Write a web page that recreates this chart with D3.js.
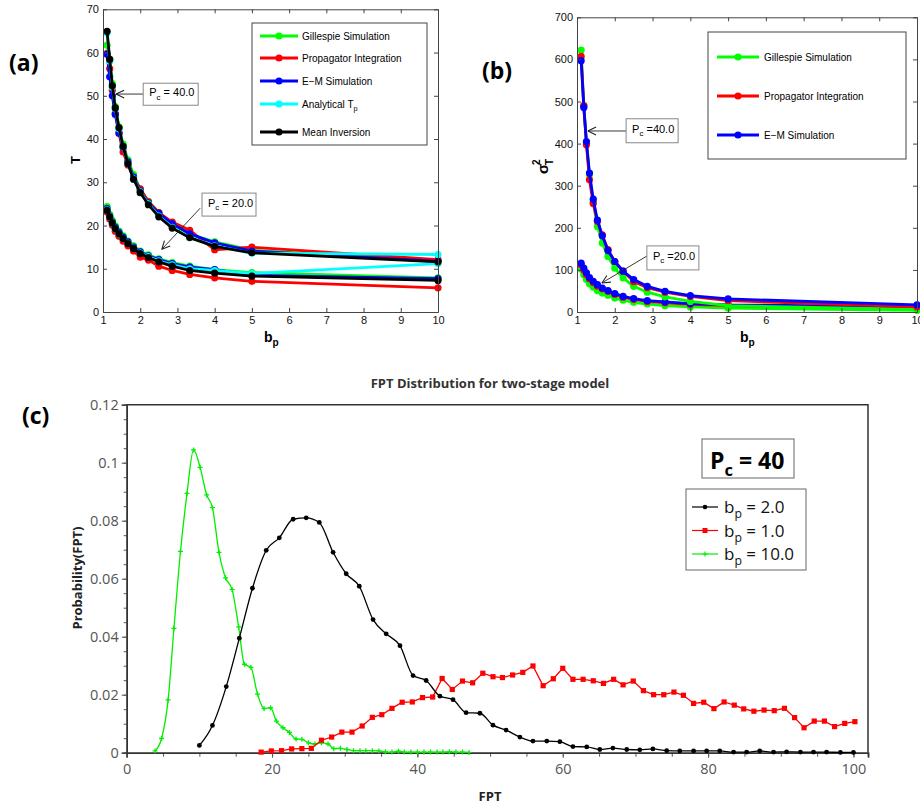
<!DOCTYPE html>
<html lang="en">
<head>
<meta charset="utf-8">
<title>FPT two-stage model</title>
<script src="https://d3js.org/d3.v7.min.js"></script>
<style>
  body { margin: 0; background: #fff; }
</style>
</head>
<body>
<div id="chart"></div>
<script>
// ---------- data ----------
// b_p values used in panels (a) and (b)
var bp = [1.11, 1.18, 1.25, 1.33, 1.43, 1.54, 1.67, 1.82, 2, 2.22, 2.5, 2.86, 3.33, 4, 5, 10];

// panel (a): mean FPT, Pc = 40
var gill40 = [61.7, 58.5, 52.8, 47.5, 42.8, 38.8, 35.2, 31.8, 28.4, 25.6, 23.0, 20.2, 18.0, 16.2, 14.3, 11.8];
var prop40 = [59.8, 56.3, 51.3, 45.9, 41.3, 37.0, 34.0, 31.1, 28.5, 25.5, 23.0, 20.8, 18.9, 14.4, 15.0, 12.1];
var em40   = [59.6, 54.4, 50.0, 45.7, 41.4, 38.0, 34.7, 31.2, 28.0, 25.2, 22.8, 20.4, 18.1, 16.0, 14.1, 11.7];
var ana40  = [64.5, 58.0, 52.0, 47.0, 42.4, 38.2, 34.3, 30.8, 27.8, 25.0, 22.2, 19.6, 17.2, 15.3, 13.6, 13.3];
var mi40   = [64.9, 58.4, 52.3, 47.2, 42.6, 38.3, 34.3, 30.7, 27.6, 24.8, 22.0, 19.4, 17.2, 15.2, 13.7, 11.6];
// panel (a): mean FPT, Pc = 20
var gill20 = [24.4, 22.6, 21.2, 19.9, 18.7, 17.6, 16.4, 15.3, 14.1, 13.2, 12.3, 11.4, 10.6, 9.8, 9.1, 7.9];
var prop20 = [23.1, 21.5, 20.1, 18.7, 17.5, 16.4, 15.3, 14.1, 12.7, 12.0, 10.6, 9.6, 8.7, 7.9, 7.1, 5.6];
var em20   = [23.9, 22.2, 20.8, 19.6, 18.4, 17.3, 16.2, 15.0, 13.9, 13.0, 12.1, 11.2, 10.4, 9.8, 8.5, 7.7];
var ana20  = [23.6, 22.0, 20.6, 19.3, 18.1, 17.0, 15.9, 14.8, 13.6, 12.8, 11.8, 10.9, 10.0, 9.6, 8.9, 11.2];
var mi20   = [23.5, 22.0, 20.6, 19.3, 18.1, 17.0, 15.8, 14.7, 13.5, 12.6, 11.6, 10.6, 9.6, 9.0, 8.3, 7.3];

// panel (b): variance of FPT
var gillV40 = [622, 490, 401, 326, 261, 203, 164, 132, 104, 81, 61, 47, 36, 25, 15, 6];
var propV40 = [607, 490, 397, 314, 258, 215, 183, 148, 120, 97, 72, 58, 47, 37, 27, 12];
var emV40   = [597, 486, 405, 330, 268, 218, 181, 146, 120, 97, 77, 61, 49, 39, 31, 17];
var gillV20 = [102, 89, 77, 67, 59, 51, 45, 40, 33, 28, 23, 19, 15, 12, 9, 4];
var propV20 = [112, 100, 89, 79, 70, 62, 55, 49, 42, 35, 30, 25, 22, 18, 15, 11];
var emV20   = [116, 104, 93, 82, 73, 65, 57, 51, 44, 37, 32, 27, 24, 20, 17, 13];

// panel (c): FPT distributions, Pc = 40
var fptB2 = [10.0, 11.8, 13.7, 15.5, 17.3, 19.2, 21.0, 22.9, 24.7, 26.5, 28.4, 30.2, 32.0, 33.9, 35.7, 37.6, 39.4, 41.2, 43.1, 44.9,
             46.7, 48.6, 50.4, 52.2, 54.1, 55.9, 57.8, 59.6, 61.4, 63.3, 65.1, 66.9, 68.8, 70.6, 72.4, 74.3, 76.1, 78.0, 79.8, 81.6,
             83.5, 85.3, 87.1, 89.0, 90.8, 92.7, 94.5, 96.3, 98.2, 100.0];
var probB2 = [0.0025, 0.0094, 0.0228, 0.0395, 0.0567, 0.0698, 0.0741, 0.0805, 0.0810, 0.0794, 0.0691, 0.0617, 0.0574, 0.0459, 0.0410,
              0.0369, 0.0266, 0.0249, 0.0195, 0.0183, 0.0138, 0.0136, 0.0095, 0.0078, 0.0054, 0.0040, 0.0040, 0.0038, 0.0021, 0.0020,
              0.0011, 0.0016, 0.0011, 0.0010, 0.0013, 0.0007, 0.0006, 0.0006, 0.0006, 0.0006, 0.0002, 0.0002, 0.0006, 0.0002, 0.0003,
              0.0002, 0.0002, 0.0002, 0.0001, 0.0001];
var fptB1 = [18.5, 19.9, 21.3, 22.7, 24.1, 25.4, 26.8, 28.2, 29.6, 31.0, 32.4, 33.8, 35.1, 36.5, 37.9, 39.3, 40.7, 42.1, 43.4, 44.8,
             46.2, 47.6, 49.0, 50.4, 51.7, 53.1, 54.5, 55.9, 57.3, 58.7, 60.0, 61.4, 62.8, 64.2, 65.6, 67.0, 68.3, 69.7, 71.1, 72.5,
             73.9, 75.3, 76.6, 78.0, 79.4, 80.8, 82.2, 83.6, 84.9, 86.3, 87.7, 89.1, 90.5, 91.9, 93.2, 94.6, 96.0, 97.4, 98.8, 100.2];
var probB1 = [0.0002, 0.0006, 0.0007, 0.0013, 0.0014, 0.0015, 0.0043, 0.0054, 0.0071, 0.0071, 0.0092, 0.0122, 0.0131, 0.0153, 0.0174,
              0.0175, 0.0190, 0.0192, 0.0256, 0.0218, 0.0247, 0.0241, 0.0274, 0.0262, 0.0259, 0.0268, 0.0277, 0.0299, 0.0231, 0.0255,
              0.0291, 0.0253, 0.0253, 0.0248, 0.0239, 0.0253, 0.0234, 0.0247, 0.0214, 0.0200, 0.0200, 0.0209, 0.0198, 0.0170, 0.0174,
              0.0152, 0.0175, 0.0164, 0.0151, 0.0143, 0.0147, 0.0145, 0.0153, 0.0121, 0.0086, 0.0109, 0.0109, 0.0090, 0.0101, 0.0107];
var fptB10 = [3.9, 4.8, 5.7, 6.5, 7.4, 8.3, 9.2, 10.1, 11.0, 11.8, 12.7, 13.6, 14.5, 15.4, 16.2, 17.1, 18.0, 18.9, 19.8, 20.6,
              21.5, 22.4, 23.3, 24.1, 25.0, 25.9, 26.8, 27.7, 28.5, 29.4, 30.3, 31.2, 32.1, 32.9, 33.8, 34.7, 35.6, 36.5, 37.4, 38.2,
              39.1, 40.0, 40.9, 41.8, 42.7, 43.5, 44.4, 45.3, 46.2, 47.1];
var probB10 = [0.0006, 0.0049, 0.0182, 0.0429, 0.0694, 0.0894, 0.1044, 0.0984, 0.0889, 0.0845, 0.0691, 0.0603, 0.0563, 0.0434, 0.0305,
               0.0294, 0.0202, 0.0152, 0.0155, 0.0109, 0.0086, 0.0070, 0.0047, 0.0046, 0.0034, 0.0030, 0.0034, 0.0030, 0.0014, 0.0015,
               0.0011, 0.0007, 0.0007, 0.0007, 0.0007, 0.0006, 0.0003, 0.0002, 0.0005, 0.0002, 0.0002, 0.0002, 0.0002, 0.0002, 0.0002,
               0.0002, 0.0003, 0.0002, 0.0002, 0.0001];

// tick labels
var xTicksAB = [1, 2, 3, 4, 5, 6, 7, 8, 9, 10];
var yTicksA = [0, 10, 20, 30, 40, 50, 60, 70];
var yTicksB = [0, 100, 200, 300, 400, 500, 600, 700];
var xTicksC = [0, 20, 40, 60, 80, 100];
var yTicksC = [0, 0.02, 0.04, 0.06, 0.08, 0.1, 0.12];

var GREEN = "#00ff00", RED = "#ff0000", BLUE = "#0000ff", CYAN = "#00ffff", BLACK = "#000000";
var MAT_FONT = "'Liberation Sans', Arial, sans-serif";
var C_FONT = "'Open Sans', 'Noto Sans', sans-serif";

var svg = d3.select("#chart").append("svg")
    .attr("width", 920)
    .attr("height", 804);

// zip two arrays into points
function pts(xs, ys) {
    return xs.map(function(d, i){ return [d, ys[i]]; });
}

// MATLAB style box with inward ticks on all four sides
function matlabAxes(g, x, y, xTicks, yTicks) {
    var xr = x.range(), yr = y.range();
    g.append("g").attr("transform", "translate(0," + yr[0] + ")")
        .call(d3.axisBottom(x).tickValues(xTicks).tickSizeInner(-4).tickSizeOuter(0).tickPadding(4));
    g.append("g").attr("transform", "translate(0," + yr[1] + ")")
        .call(d3.axisTop(x).tickValues(xTicks).tickSizeInner(-4).tickSizeOuter(0).tickFormat(""));
    g.append("g").attr("transform", "translate(" + xr[0] + ",0)")
        .call(d3.axisLeft(y).tickValues(yTicks).tickSizeInner(-4).tickSizeOuter(0).tickPadding(4));
    g.append("g").attr("transform", "translate(" + xr[1] + ",0)")
        .call(d3.axisRight(y).tickValues(yTicks).tickSizeInner(-4).tickSizeOuter(0).tickFormat(""));
    g.selectAll(".domain").attr("stroke", "#444");
    g.selectAll(".tick line").attr("stroke", "#444");
    g.selectAll(".tick text").attr("font-family", MAT_FONT).attr("font-size", 11).attr("fill", "#111");
}

// thick line with filled circle markers
function matlabSeries(g, x, y, data, colour) {
    var line = d3.line()
        .x(function(d){ return x(d[0]); })
        .y(function(d){ return y(d[1]); });
    g.append("path").datum(data)
        .attr("d", line)
        .attr("fill", "none")
        .attr("stroke", colour)
        .attr("stroke-width", 2.8);
    g.selectAll(null).data(data).enter().append("circle")
        .attr("cx", function(d){ return x(d[0]); })
        .attr("cy", function(d){ return y(d[1]); })
        .attr("r", 3.6)
        .attr("fill", colour);
}

// text with a subscript, e.g. P_c
function subText(g, xPos, yPos, main, sub, rest, size, weight) {
    var t = g.append("text")
        .attr("x", xPos).attr("y", yPos)
        .attr("font-size", size)
        .attr("font-weight", weight || "normal");
    t.append("tspan").text(main);
    t.append("tspan").text(sub).attr("font-size", size * 0.72).attr("dy", size * 0.3);
    if (rest) t.append("tspan").text(rest).attr("dy", -size * 0.3);
    return t;
}

// boxed annotation with an open arrow head
function annotate(g, bx, by, bw, bh, label, tail, tip) {
    g.append("line")
        .attr("x1", tail[0]).attr("y1", tail[1])
        .attr("x2", tip[0]).attr("y2", tip[1])
        .attr("stroke", "#222").attr("stroke-width", 0.9);
    var ang = Math.atan2(tail[1] - tip[1], tail[0] - tip[0]);
    [0.45, -0.45].forEach(function(a){
        g.append("line")
            .attr("x1", tip[0]).attr("y1", tip[1])
            .attr("x2", tip[0] + 9 * Math.cos(ang + a))
            .attr("y2", tip[1] + 9 * Math.sin(ang + a))
            .attr("stroke", "#222").attr("stroke-width", 1.1);
    });
    g.append("rect")
        .attr("x", bx).attr("y", by).attr("width", bw).attr("height", bh)
        .attr("fill", "#fff").attr("stroke", "#888").attr("stroke-width", 1);
    subText(g, bx + 6, by + bh / 2 + 2, "P", "c", label, 11).attr("font-family", MAT_FONT);
}

// ---------- panel (a) ----------
var gA = svg.append("g");
var xA = d3.scaleLinear().domain([1, 10]).range([103, 438]);
var yA = d3.scaleLinear().domain([0, 70]).range([312, 9.3]);

var seriesA = [
    [gill40, gill20, GREEN, "Gillespie Simulation"],
    [prop40, prop20, RED, "Propagator Integration"],
    [em40, em20, BLUE, "E\u2212M Simulation"],
    [ana40, ana20, CYAN, "Analytical T"],
    [mi40, mi20, BLACK, "Mean Inversion"]
];
seriesA.forEach(function(s){
    matlabSeries(gA, xA, yA, pts(bp, s[0]), s[2]);
    matlabSeries(gA, xA, yA, pts(bp, s[1]), s[2]);
});
matlabAxes(gA, xA, yA, xTicksAB, yTicksA);

// legend (a)
var legA = gA.append("g").attr("font-family", MAT_FONT).attr("font-size", 10);
legA.append("rect").attr("x", 252).attr("y", 23).attr("width", 175).attr("height", 122)
    .attr("fill", "#fff").attr("stroke", "#444");
var legAy = [36, 58, 81, 104, 132];
seriesA.forEach(function(s, i){
    legA.append("line").attr("x1", 260).attr("x2", 298).attr("y1", legAy[i]).attr("y2", legAy[i])
        .attr("stroke", s[2]).attr("stroke-width", 2.8);
    legA.append("circle").attr("cx", 279).attr("cy", legAy[i]).attr("r", 3.6).attr("fill", s[2]);
    if (i === 3) {
        subText(legA, 302, legAy[i] + 3.5, s[3], "p", null, 10);
    } else {
        legA.append("text").attr("x", 302).attr("y", legAy[i] + 3.5).text(s[3]);
    }
});

annotate(gA, xA(2.08), yA(52.9), 55, 22, " = 40.0", [xA(2.08), yA(50.4)], [xA(1.35), yA(50.4)]);
annotate(gA, xA(3.66), yA(27.5), 54, 23, " = 20.0", [xA(3.61), yA(24.0)], [xA(2.58), yA(14.5)]);

gA.append("text").attr("transform", "translate(80,160) rotate(-90)")
    .attr("text-anchor", "middle").attr("font-family", MAT_FONT)
    .attr("font-weight", "bold").attr("font-size", 13).text("T");
subText(gA, 264, 342, "b", "p", null, 14, "bold").attr("font-family", MAT_FONT);

// ---------- panel (b) ----------
var gB = svg.append("g");
var xB = d3.scaleLinear().domain([1, 10]).range([577, 917]);
var yB = d3.scaleLinear().domain([0, 700]).range([312, 17.3]);

var seriesB = [
    [gillV40, gillV20, GREEN, "Gillespie Simulation"],
    [propV40, propV20, RED, "Propagator Integration"],
    [emV40, emV20, BLUE, "E\u2212M Simulation"]
];
seriesB.forEach(function(s){
    matlabSeries(gB, xB, yB, pts(bp, s[1]), s[2]);
});
seriesB.forEach(function(s){
    matlabSeries(gB, xB, yB, pts(bp, s[0]), s[2]);
});
matlabAxes(gB, xB, yB, xTicksAB, yTicksB);

var legB = gB.append("g").attr("font-family", MAT_FONT).attr("font-size", 10);
legB.append("rect").attr("x", 708).attr("y", 32).attr("width", 198).attr("height", 127)
    .attr("fill", "#fff").attr("stroke", "#444");
var legBy = [57, 96, 135];
seriesB.forEach(function(s, i){
    legB.append("line").attr("x1", 717).attr("x2", 759).attr("y1", legBy[i]).attr("y2", legBy[i])
        .attr("stroke", s[2]).attr("stroke-width", 2.8);
    legB.append("circle").attr("cx", 738).attr("cy", legBy[i]).attr("r", 3.6).attr("fill", s[2]);
    legB.append("text").attr("x", 764).attr("y", legBy[i] + 3.5).text(s[3]);
});

annotate(gB, xB(2.3), yB(459), 52, 24, " =40.0", [xB(2.3), yB(430)], [xB(1.29), yB(430)]);
annotate(gB, xB(2.85), yB(157), 52, 24, " =20.0", [xB(2.85), yB(133)], [xB(1.66), yB(69)]);

// sigma^2_T label
var sig = gB.append("g").attr("transform", "translate(548,174) rotate(-90)")
    .attr("font-family", MAT_FONT).attr("font-weight", "bold");
sig.append("text").attr("x", 0).attr("y", 0).attr("font-size", 15).text("\u03c3");
sig.append("text").attr("x", 9).attr("y", -8).attr("font-size", 10).text("2");
sig.append("text").attr("x", 9).attr("y", 5).attr("font-size", 10).text("T");
subText(gB, 740, 342, "b", "p", null, 14, "bold").attr("font-family", MAT_FONT);

// ---------- panel labels ----------
[["(a)", 9, 71], ["(b)", 482, 79], ["(c)", 22, 424]].forEach(function(p){
    svg.append("text").attr("x", p[1]).attr("y", p[2])
        .attr("font-family", C_FONT).attr("font-weight", "bold").attr("font-size", 23)
        .text(p[0]);
});

// ---------- panel (c) ----------
var gC = svg.append("g").attr("font-family", C_FONT);
var xC = d3.scaleLinear().domain([0, 102]).range([126.7, 868]);
var yC = d3.scaleLinear().domain([0, 0.12]).range([752.7, 404.7]);

// minor ticks
gC.append("g").attr("transform", "translate(0,752.7)")
    .call(d3.axisBottom(xC).tickValues(d3.range(0, 101, 5)).tickSize(4).tickFormat(""));
gC.append("g").attr("transform", "translate(126.7,0)")
    .call(d3.axisLeft(yC).tickValues(d3.range(0, 0.1201, 0.005)).tickSize(3).tickFormat(""));
// major ticks
gC.append("g").attr("transform", "translate(0,752.7)")
    .call(d3.axisBottom(xC).tickValues(xTicksC).tickSize(5).tickPadding(6));
gC.append("g").attr("transform", "translate(126.7,0)")
    .call(d3.axisLeft(yC).tickValues(yTicksC).tickSize(5).tickPadding(3)
        .tickFormat(function(d){ return String(+d.toFixed(2)); }));
gC.selectAll(".domain").attr("stroke", "#333").attr("stroke-width", 1.5);
gC.selectAll(".tick line").attr("stroke", "#555");
gC.selectAll(".tick text").attr("font-family", C_FONT).attr("font-size", 14.5).attr("fill", "#555");
// top and right border
gC.append("path")
    .attr("d", "M126.7,404.7H868V752.7")
    .attr("fill", "none").attr("stroke", "#333").attr("stroke-width", 1.5);

var lineSmooth = d3.line().curve(d3.curveMonotoneX)
    .x(function(d){ return xC(d[0]); }).y(function(d){ return yC(d[1]); });
var lineStraight = d3.line()
    .x(function(d){ return xC(d[0]); }).y(function(d){ return yC(d[1]); });

// b_p = 10 (green, plus markers)
var dG = pts(fptB10, probB10);
gC.append("path").datum(dG).attr("d", lineSmooth)
    .attr("fill", "none").attr("stroke", "#00ee00").attr("stroke-width", 1.3);
gC.selectAll(null).data(dG).enter().append("path")
    .attr("d", function(d){
        var cx = xC(d[0]), cy = yC(d[1]);
        return "M" + (cx - 2.5) + "," + cy + "h5M" + cx + "," + (cy - 2.5) + "v5";
    })
    .attr("stroke", "#00ee00").attr("stroke-width", 1.3);

// b_p = 1 (red, squares)
var dR = pts(fptB1, probB1);
gC.append("path").datum(dR).attr("d", lineStraight)
    .attr("fill", "none").attr("stroke", RED).attr("stroke-width", 1.3);
gC.selectAll(null).data(dR).enter().append("rect")
    .attr("x", function(d){ return xC(d[0]) - 2.6; })
    .attr("y", function(d){ return yC(d[1]) - 2.6; })
    .attr("width", 5.2).attr("height", 5.2)
    .attr("fill", RED);

// b_p = 2 (black, circles)
var dK = pts(fptB2, probB2);
gC.append("path").datum(dK).attr("d", lineSmooth)
    .attr("fill", "none").attr("stroke", BLACK).attr("stroke-width", 1.3);
gC.selectAll(null).data(dK).enter().append("circle")
    .attr("cx", function(d){ return xC(d[0]); })
    .attr("cy", function(d){ return yC(d[1]); })
    .attr("r", 2.4).attr("fill", BLACK);

// title and axis labels
gC.append("text").attr("x", 490).attr("y", 388).attr("text-anchor", "middle")
    .attr("font-weight", "bold").attr("font-size", 13).attr("fill", "#333")
    .text("FPT Distribution for two-stage model");
gC.append("text").attr("x", 490).attr("y", 801).attr("text-anchor", "middle")
    .attr("font-weight", "bold").attr("font-size", 13).attr("fill", "#222").text("FPT");
gC.append("text").attr("transform", "translate(82,578) rotate(-90)").attr("text-anchor", "middle")
    .attr("font-weight", "bold").attr("font-size", 13).attr("fill", "#222").text("Probability(FPT)");

// Pc = 40 box
gC.append("rect").attr("x", 702).attr("y", 439).attr("width", 92).attr("height", 39)
    .attr("fill", "#fff").attr("stroke", "#666");
subText(gC, 710, 469, "P", "c", " = 40", 23, "bold");

// legend (c)
gC.append("rect").attr("x", 686).attr("y", 489).attr("width", 120).attr("height", 81)
    .attr("fill", "#fff").attr("stroke", "#666");
var legC = [["2.0", BLACK], ["1.0", RED], ["10.0", "#00ee00"]];
legC.forEach(function(l, i){
    var ly = 507 + i * 23.5;
    gC.append("line").attr("x1", 692).attr("x2", 718).attr("y1", ly).attr("y2", ly)
        .attr("stroke", l[1]).attr("stroke-width", 1.2);
    if (i === 0) {
        gC.append("circle").attr("cx", 705).attr("cy", ly).attr("r", 2.3).attr("fill", l[1]);
    } else if (i === 1) {
        gC.append("rect").attr("x", 702.5).attr("y", ly - 2.5).attr("width", 5).attr("height", 5).attr("fill", l[1]);
    } else {
        gC.append("path").attr("d", "M702.5," + ly + "h5M705," + (ly - 2.5) + "v5")
            .attr("stroke", l[1]).attr("stroke-width", 1.2);
    }
    subText(gC, 724, ly + 6, "b", "p", " = " + l[0], 17).attr("fill", "#111");
});
</script>
</body>
</html>
